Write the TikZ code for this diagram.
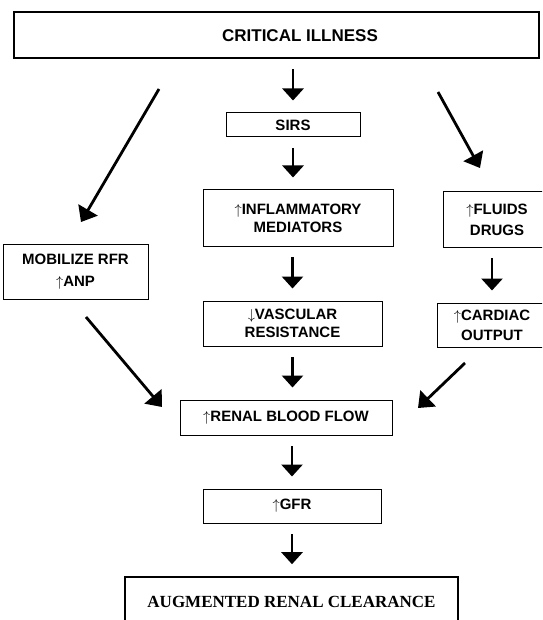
\documentclass[tikz,border=0pt]{standalone}
\usepackage{fontspec}
\setmainfont{Liberation Sans}
\newfontfamily\timesbf{Liberation Serif}
\usetikzlibrary{arrows.meta}

\newcommand{\up}{$\uparrow$}
\newcommand{\dn}{$\downarrow$}

\tikzset{
  box/.style={draw, line width=1pt, inner sep=0pt, align=center,
    font=\fontsize{15}{18}\selectfont\bfseries},
  flow/.style={line width=2.8pt, -{Triangle[width=21pt,length=12pt]},
    shorten <=10.5pt, shorten >=12pt},
  slant/.style={line width=2.8pt, -{Triangle[width=22pt,length=14pt]}},
}

\begin{document}
\begin{tikzpicture}[x=1pt,y=-1pt]
  \useasboundingbox (0,0) rectangle (542,620);
  \clip (0,0) rectangle (542,620);

  % centre column
  \node[box, line width=1.6pt, minimum width=525pt, minimum height=46pt] (crit) at (276.5,35) {};
  \node[font=\fontsize{17}{20}\selectfont\bfseries] (crittext) at (300,35.5) {CRITICAL ILLNESS};
  \node[box, minimum width=134pt, minimum height=24pt] (sirs) at (293,125) {SIRS};
  \node[box, minimum width=190pt, minimum height=56pt] (infl) at (298,218) {\up INFLAMMATORY\\MEDIATORS};
  \node[box, minimum width=179pt, minimum height=45pt] (vasc) at (292.5,323.5) {\dn VASCULAR\\RESISTANCE};
  \node[box, minimum width=212pt, minimum height=35pt] (rbf) at (286,417.5) {\up RENAL BLOOD FLOW};
  \node[box, minimum width=178pt, minimum height=34pt] (gfr) at (292,506) {\up GFR};
  \node[box, line width=1.6pt, minimum width=333pt, minimum height=50pt,
    font=\fontsize{17}{20}\timesbf\bfseries] (arc) at (291.5,602) {AUGMENTED RENAL CLEARANCE};

  % side columns
  \node[box, minimum width=145pt, minimum height=55pt] (mob) at (75.5,271.5) {MOBILIZE RFR\\[4pt]\up ANP};
  \node[box, minimum width=108pt, minimum height=55pt] (fluid) at (497,219.5) {\up FLUIDS\\[3pt]DRUGS};
  \node[box, minimum width=110pt, minimum height=44pt] (card) at (492,325) {\up CARDIAC\\[2pt]OUTPUT};

  % straight arrows
  \draw[flow] (crit.south -| sirs) -- (sirs.north);
  \draw[flow] (sirs.south) -- (sirs.south |- infl.north);
  \draw[flow] (infl.south -| vasc) -- (vasc.north);
  \draw[flow] (vasc.south) -- (vasc.south |- rbf.north);
  \draw[flow] (rbf.south -| gfr) -- (gfr.north);
  \draw[flow] (gfr.south) -- (gfr.south |- arc.north);
  \draw[flow] (fluid.south -| card) -- (card.north);

  % slanted arrows
  \coordinate (mobA) at (159,89);  \coordinate (mobB) at (81,222);
  \coordinate (fluA) at (438,92);  \coordinate (fluB) at (480,168);
  \coordinate (rbfA) at (86,317);  \coordinate (rbfB) at (162,407);
  \coordinate (rbfC) at (465,363); \coordinate (rbfD) at (418,408);
  \draw[slant] (mobA) -- (mobB);
  \draw[slant] (fluA) -- (fluB);
  \draw[slant] (rbfA) -- (rbfB);
  \draw[slant] (rbfC) -- (rbfD);
\end{tikzpicture}
\end{document}
